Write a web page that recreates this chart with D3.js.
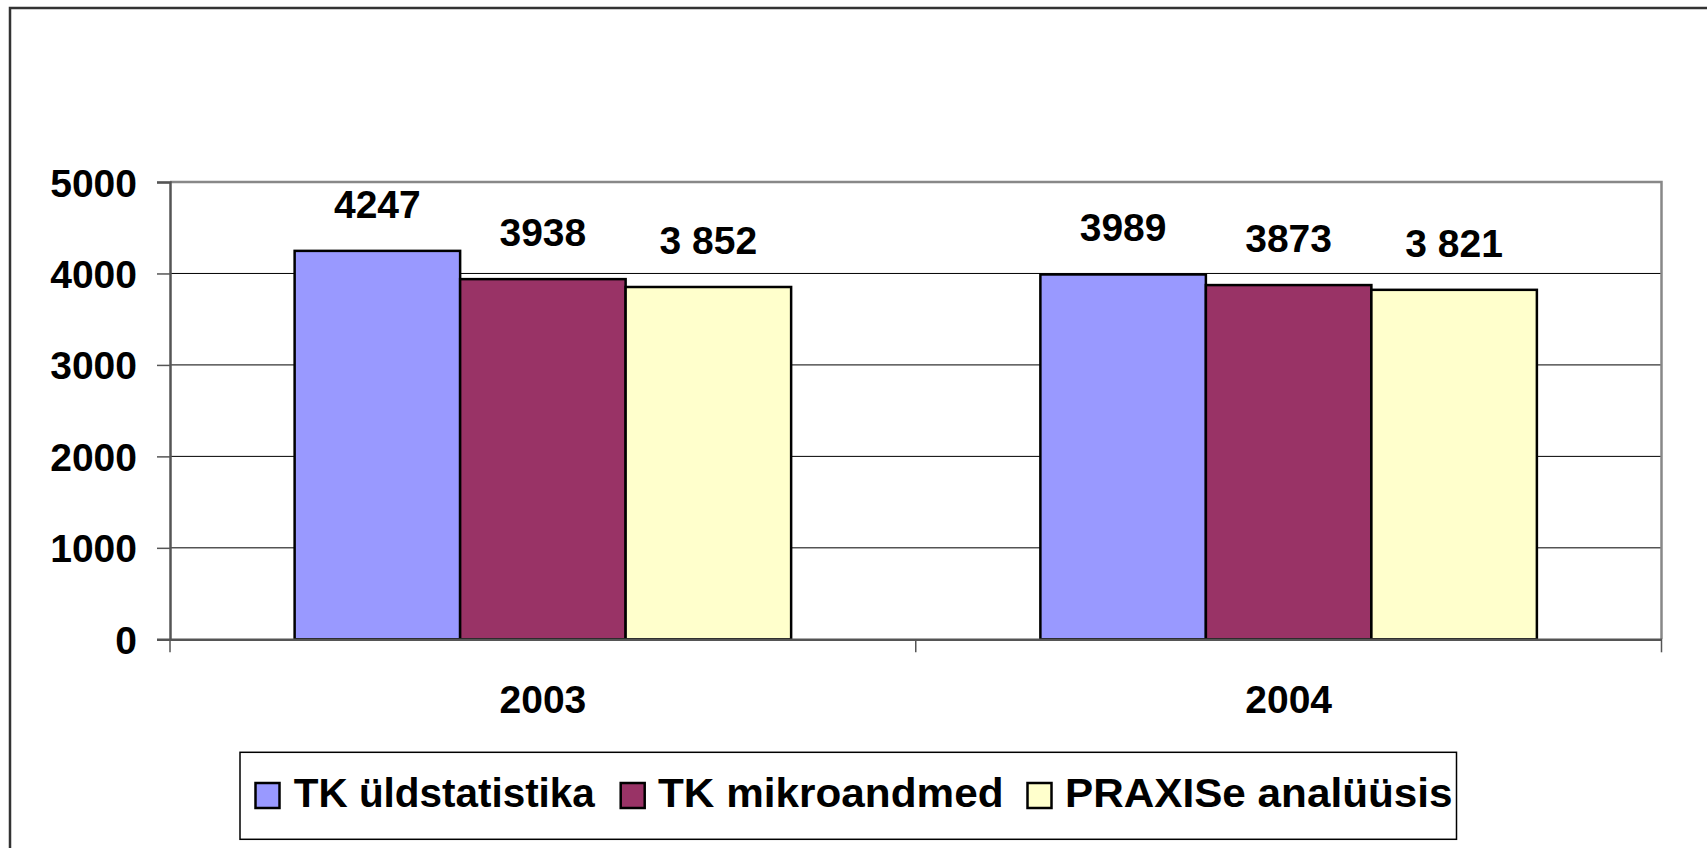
<!DOCTYPE html>
<html><head><meta charset="utf-8">
<script src="https://cdn.jsdelivr.net/npm/d3@7"></script>
<style>body{margin:0;background:#fff}svg{display:block}text{font-family:"Liberation Sans",Arial,sans-serif;font-weight:bold;fill:#000}</style>
</head><body>
<script>
const categories = ["2003", "2004"];
const seriesNames = ["TK üldstatistika", "TK mikroandmed", "PRAXISe analüüsis"];
const seriesColors = ["#9999FF", "#993366", "#FFFFCC"];
const values2003 = [4247, 3938, 3852];
const values2004 = [3989, 3873, 3821];
const labels2003 = ["4247", "3938", "3 852"];
const labels2004 = ["3989", "3873", "3 821"];
const yTicks = [0, 1000, 2000, 3000, 4000, 5000];

const W = 1707, H = 848;
const svg = d3.select("body").append("svg").attr("width", W).attr("height", H);

// outer chart border
svg.append("rect").attr("x", 10).attr("y", 8).attr("width", W + 20).attr("height", H + 20)
  .attr("fill", "none").attr("stroke", "#333").attr("stroke-width", 2.5);

const L = 170, R = 1661.5, T = 182, B = 639.3;
const x0 = d3.scaleBand().domain(categories).range([L, R]).paddingInner(0).paddingOuter(0);
const y = d3.scaleLinear().domain([0, 5000]).range([B, T]);
const bw = 165.5;
const x1 = d3.scaleBand().domain(d3.range(3)).range([0, bw * 3]);

// gridlines
svg.append("g").selectAll("line").data(yTicks.filter(d => d > 0 && d < 5000)).join("line")
  .attr("x1", L).attr("x2", R).attr("y1", d => y(d)).attr("y2", d => y(d))
  .attr("stroke", "#000").attr("stroke-width", 1);

// plot border top/right
svg.append("path").attr("d", `M${L},${T}H${R}V${B}`).attr("fill", "none")
  .attr("stroke", "#888").attr("stroke-width", 2.5);

const data = [
  {cat: "2003", vals: values2003, labs: labels2003},
  {cat: "2004", vals: values2004, labs: labels2004}
];
const groups = svg.append("g").selectAll("g").data(data).join("g")
  .attr("transform", d => `translate(${x0(d.cat) + (x0.bandwidth() - bw * 3) / 2},0)`);
groups.selectAll("rect").data(d => d.vals).join("rect")
  .attr("x", (d, i) => x1(i)).attr("width", x1.bandwidth())
  .attr("y", d => y(d)).attr("height", d => B - y(d))
  .attr("fill", (d, i) => seriesColors[i]).attr("stroke", "#000").attr("stroke-width", 2.5);
groups.selectAll("text").data(d => d.vals.map((v, i) => ({v, l: d.labs[i]}))).join("text")
  .attr("x", (d, i) => x1(i) + x1.bandwidth() / 2).attr("y", d => y(d.v) - 33)
  .attr("text-anchor", "middle").attr("font-size", 39).text(d => d.l);

// y axis
const yAxis = svg.append("g").attr("transform", `translate(${L},0)`)
  .call(d3.axisLeft(y).tickValues(yTicks).tickSize(13).tickPadding(20).tickFormat(d3.format("d")));
yAxis.select(".domain").attr("stroke", "#555").attr("stroke-width", 2.5);
yAxis.selectAll(".tick line").attr("stroke", "#555").attr("stroke-width", 1.5);
yAxis.selectAll(".tick text").attr("font-size", 39).attr("font-family", "Liberation Sans, Arial, sans-serif")
  .attr("font-weight", "bold").attr("fill", "#000").attr("dy", "0.36em");

// x axis
const xAxis = svg.append("g").attr("transform", `translate(0,${B})`)
  .call(d3.axisBottom(x0).tickSize(0).tickPadding(45));
xAxis.select(".domain").attr("stroke", "#555").attr("stroke-width", 2.5);
xAxis.selectAll(".tick text").attr("font-size", 39).attr("font-family", "Liberation Sans, Arial, sans-serif")
  .attr("font-weight", "bold").attr("fill", "#000").attr("dy", null).attr("y", 74);
svg.append("g").selectAll("line").data([L, x0("2004"), R]).join("line")
  .attr("x1", d => d).attr("x2", d => d).attr("y1", B).attr("y2", B + 13)
  .attr("stroke", "#555").attr("stroke-width", 1.5);

// legend
svg.append("rect").attr("x", 240).attr("y", 752.3).attr("width", 1216.5).attr("height", 87)
  .attr("fill", "#fff").attr("stroke", "#000").attr("stroke-width", 1.5);
const legX = [255.5, 620.7, 1027.5];
const legTextX = [293.8, 658, 1065];
const legTextW = [301, 345.5, 387.5];
const lg = svg.append("g").selectAll("g").data(seriesNames).join("g");
lg.append("rect").attr("x", (d, i) => legX[i]).attr("y", 783).attr("width", 24).attr("height", 25)
  .attr("fill", (d, i) => seriesColors[i]).attr("stroke", "#000").attr("stroke-width", 2.5);
lg.append("text").attr("x", (d, i) => legTextX[i]).attr("y", 807).attr("font-size", 41)
  .attr("textLength", (d, i) => legTextW[i]).attr("lengthAdjust", "spacingAndGlyphs").text(d => d);
</script>
</body></html>
